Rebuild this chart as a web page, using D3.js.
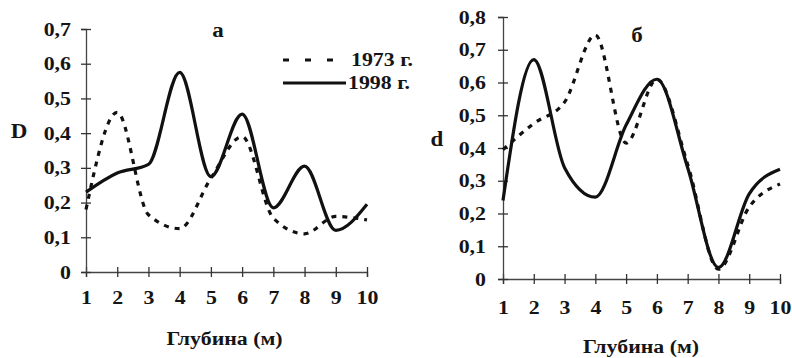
<!DOCTYPE html>
<html>
<head>
<meta charset="utf-8">
<script src="https://cdn.jsdelivr.net/npm/d3@7"></script>
<style>
  body { margin: 0; background: #fff; }
  svg { display: block; }
  text { font-family: "Liberation Serif", "DejaVu Serif", serif; font-weight: bold; fill: #151515; }
</style>
</head>
<body>
<svg id="chart" width="792" height="358"></svg>
<script>
// depth, m
const depths = [1, 2, 3, 4, 5, 6, 7, 8, 9, 10];

// panel "а" (D)
const a1973 = [0.18, 0.46, 0.165, 0.125, 0.27, 0.39, 0.155, 0.11, 0.16, 0.15];
const a1998 = [0.23, 0.285, 0.31, 0.575, 0.275, 0.455, 0.185, 0.305, 0.12, 0.195];
const aYTicks = [0, 0.1, 0.2, 0.3, 0.4, 0.5, 0.6, 0.7];

// panel "б" (d)
const b1973 = [0.395, 0.475, 0.54, 0.745, 0.415, 0.61, 0.35, 0.03, 0.22, 0.29];
const b1998 = [0.24, 0.67, 0.34, 0.25, 0.47, 0.61, 0.34, 0.035, 0.26, 0.335];
const bYTicks = [0, 0.1, 0.2, 0.3, 0.4, 0.5, 0.6, 0.7, 0.8];

const seriesNames = ["1973 г.", "1998 г."];

const SX = 1.15; // the scanned lettering is a bit wider than the font
const svg = d3.select("#chart");
const fmt = d => d === 0 ? "0" : d3.format(".1f")(d).replace(".", ",");

function label(x, y, txt, size, anchor) {
  svg.append("text")
    .attr("transform", "translate(" + x + "," + y + ") scale(" + SX + ",1)")
    .attr("text-anchor", anchor || "middle")
    .attr("font-size", size)
    .text(txt);
}

function drawPanel(opt) {
  const x = d3.scaleLinear().domain([1, 10]).range(opt.xr);
  const y = d3.scaleLinear().domain([0, opt.ymax]).range(opt.yr);

  // x axis
  const gx = svg.append("g")
    .attr("transform", "translate(0," + y(0) + ")")
    .call(d3.axisBottom(x).tickValues(depths).tickSize(5).tickPadding(opt.xPad).tickFormat(d3.format("d")));
  gx.attr("font-family", null).attr("font-size", 19);
  gx.select(".domain").attr("stroke", "#444").attr("stroke-width", 1.3);
  gx.selectAll(".tick line").attr("y1", -5).attr("y2", 5).attr("stroke", "#333").attr("stroke-width", 1.3);
  gx.selectAll(".tick text").attr("transform", "scale(" + SX + ",1)");

  // y axis
  const gy = svg.append("g")
    .attr("transform", "translate(" + x(1) + ",0)")
    .call(d3.axisLeft(y).tickValues(opt.yTicks).tickSize(5).tickPadding(opt.yPad).tickFormat(fmt));
  gy.attr("font-family", null).attr("font-size", 19);
  gy.select(".domain").attr("stroke", "#444").attr("stroke-width", 1.3);
  gy.selectAll(".tick line").attr("x1", -5).attr("x2", 5).attr("stroke", "#333").attr("stroke-width", 1.3);
  gy.selectAll(".tick text")
    .attr("x", -(5 + opt.yPad) / SX)
    .attr("transform", "scale(" + SX + ",1)");

  const line = d3.line()
    .x((d, i) => x(depths[i]))
    .y(d => y(d))
    .curve(d3.curveMonotoneX);

  svg.append("path")
    .attr("d", line(opt.s1973))
    .attr("fill", "none")
    .attr("stroke", "#111")
    .attr("stroke-width", 3.2)
    .attr("stroke-dasharray", "5,6");

  svg.append("path")
    .attr("d", line(opt.s1998))
    .attr("fill", "none")
    .attr("stroke", "#111")
    .attr("stroke-width", 3.2);

  label(opt.yLabX, opt.yLabY, opt.yLab, 20);
  label(opt.titleX, opt.titleY, opt.title, 20);
  label((opt.xr[0] + opt.xr[1]) / 2 + opt.xTitleDx, opt.xTitleY, "Глубина (м)", 19);
}

drawPanel({
  xr: [86, 367], yr: [272, 29], ymax: 0.7, yTicks: aYTicks,
  s1973: a1973, s1998: a1998,
  xPad: 14, yPad: 10,
  yLab: "D", yLabX: 19, yLabY: 138,
  title: "а", titleX: 218, titleY: 37,
  xTitleDx: -2, xTitleY: 345
});

drawPanel({
  xr: [503, 780], yr: [279, 17], ymax: 0.8, yTicks: bYTicks,
  s1973: b1973, s1998: b1998,
  xPad: 17, yPad: 12,
  yLab: "d", yLabX: 437, yLabY: 146,
  title: "б", titleX: 637, titleY: 42,
  xTitleDx: -0.5, xTitleY: 353
});

// legend (panel а)
const legend = svg.append("g");
legend.append("line")
  .attr("x1", 283).attr("x2", 340).attr("y1", 60).attr("y2", 60)
  .attr("stroke", "#111").attr("stroke-width", 3.2)
  .attr("stroke-dasharray", "6,16");
legend.append("line")
  .attr("x1", 283).attr("x2", 346).attr("y1", 83).attr("y2", 83)
  .attr("stroke", "#111").attr("stroke-width", 3.2);
seriesNames.forEach((name, i) => label(i === 0 ? 351 : 348, 66 + i * 23, name, 19, "start"));
</script>
</body>
</html>
